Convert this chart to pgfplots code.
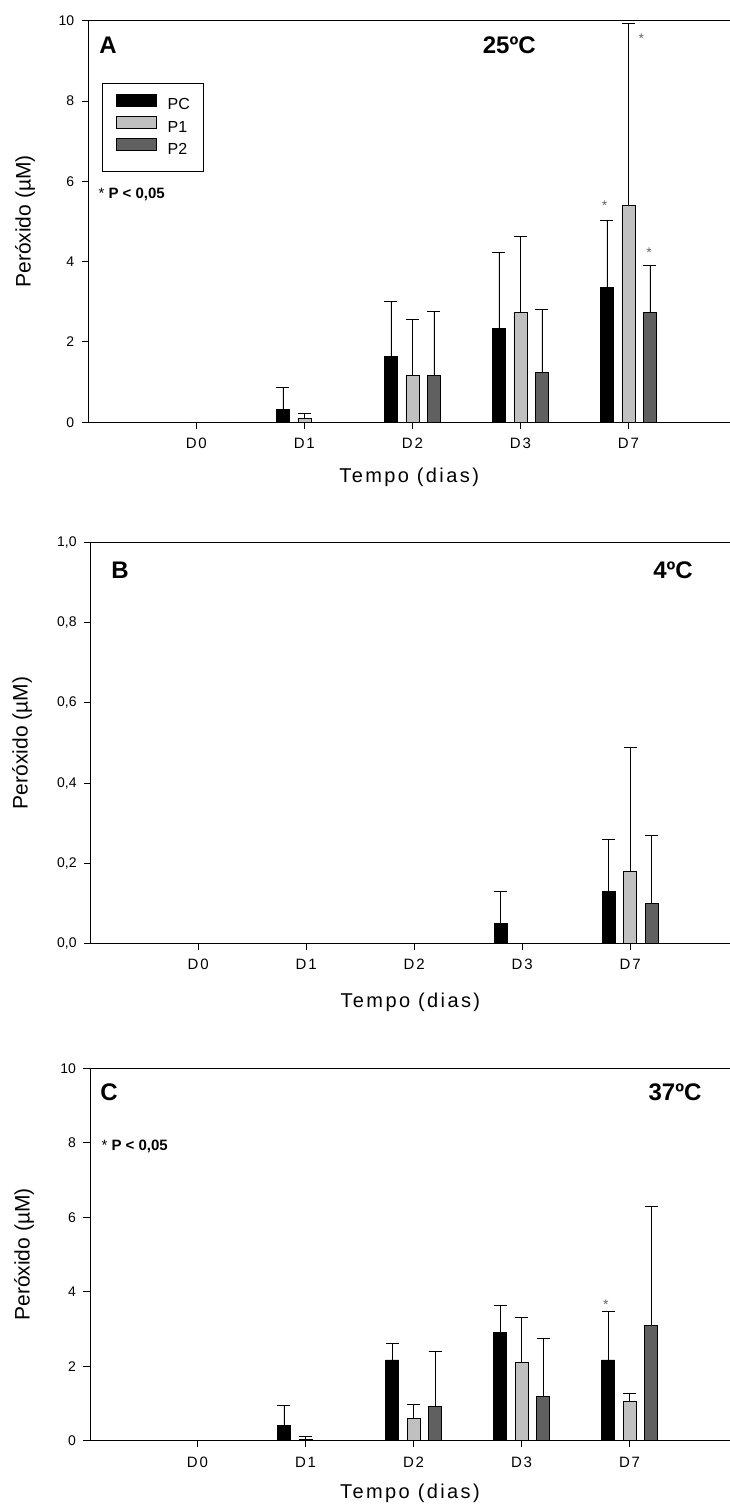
\documentclass[border=0pt]{standalone}
\usepackage{fontspec}
\setmainfont{Liberation Sans}
\newfontfamily\spaced[LetterSpace=12]{Liberation Sans}
\usepackage{pgfplots}
\pgfplotsset{compat=1.18}

\definecolor{pone}{HTML}{C0C0C0}
\definecolor{ptwo}{HTML}{606060}

\pgfplotsset{
  panel/.style={
    scale only axis,
    axis x line=box, axis y line=left,
    axis line style={-, line width=1pt},
    enlargelimits=false, ymin=0,
    xtick={0,1,2,3,4}, xticklabels={D0,D1,D2,D3,D7},
    xtick pos=bottom, ytick pos=left,
    tick align=outside, major tick length=6.5pt,
    tick style={line width=1pt, black},
    /pgf/number format/assume math mode=true,
    /pgf/number format/use comma,
    yticklabel style={font=\fontsize{14}{16}\selectfont, xshift=-4pt},
    xticklabel style={font=\spaced\fontsize{15}{17}\selectfont, yshift=-6pt},
    xlabel={Tempo (dias)}, ylabel={Peróxido (µM)},
    every axis x label/.style={at={(axis description cs:0.5,0)}, anchor=center,
      font=\spaced\fontsize{20}{22}\selectfont},
    every axis y label/.style={rotate=90, anchor=center,
      font=\fontsize{21}{23}\selectfont},
    ybar=8.5pt, bar width=13pt,
    error bars/y dir=plus, error bars/y explicit,
    error bars/error bar style={line width=0.7pt, black},
    error bars/error mark options={rotate=90, line width=1pt, mark size=6.5pt, black},
    clip=false,
  },
  bars/.style={draw=black, line width=0.6pt, fill=#1},
}
\tikzset{
  lab/.style={font=\bfseries\fontsize{24}{26}\selectfont},
  star/.style={font=\fontsize{14}{16}\selectfont, text=black!60},
  sig/.style={anchor=west, font=\bfseries\fontsize{15}{17}\selectfont},
}

\begin{document}
\begin{tikzpicture}
\useasboundingbox (0pt,0pt) rectangle (730pt,-1506pt);

% A: 25 C
\begin{axis}[panel, at={(88.3pt,-422.3pt)}, anchor=south west,
  width=641.7pt, height=401.6pt, xmin=-1, xmax=4.94, ymax=10,
  ytick={0,2,4,6,8,10},
  ylabel style={at={(axis description cs:-0.0986,0.5)}},
  xlabel style={yshift=-55pt},
  legend style={at={(rel axis cs:0.0218,0.845)}, anchor=north west,
    draw=black, line width=0.6pt, font=\fontsize{16}{18}\selectfont,
    inner xsep=13.5pt, inner ysep=10.5pt, row sep=0pt, column sep=11pt,
    nodes={text height=11.5pt, text depth=3.5pt, inner ysep=2.75pt, inner xsep=0pt}},
  legend cell align=left,
  legend image code/.code={\draw[#1] (0pt,-0.2pt) rectangle (40pt,11.8pt);}]
\addplot[bars=black] coordinates {(0,0) (1,0.32) +- (0,0.55) (2,1.64) +- (0,1.38) (3,2.33) +- (0,1.91) (4,3.36) +- (0,1.66)};
\addplot[bars=pone] coordinates {(0,0) (1,0.11) +- (0,0.12) (2,1.16) +- (0,1.41) (3,2.73) +- (0,1.90) (4,5.41) +- (0,4.52)};
\addplot[bars=ptwo] coordinates {(0,0) (1,0) (2,1.16) +- (0,1.61) (3,1.24) +- (0,1.57) (4,2.73) +- (0,1.17)};
\legend{PC,P1,P2}
\node[lab] at (rel axis cs:0.0307,0.94) {A};
\node[lab] at (rel axis cs:0.656,0.94) {25ºC};
\node[sig] at (rel axis cs:0.0104,0.5685) {{\mdseries *} P < 0,05};
\node[star] at (axis cs:3.78,5.40) {*};
\node[star] at (axis cs:4.12,9.55) {*};
\node[star] at (axis cs:4.19,4.22) {*};
\end{axis}

% B: 4 C
\begin{axis}[panel, at={(90.7pt,-943.3pt)}, anchor=south west,
  width=639.3pt, height=400.6pt, xmin=-0.995, xmax=4.925, ymax=1,
  ytick={0,0.2,0.4,0.6,0.8,1},
  yticklabel style={/pgf/number format/.cd, fixed, fixed zerofill, precision=1, use comma},
  ylabel style={at={(axis description cs:-0.1075,0.5)}},
  xlabel style={yshift=-59pt}]
\addplot[bars=black] coordinates {(0,0) (1,0) (2,0) (3,0.05) +- (0,0.08) (4,0.13) +- (0,0.13)};
\addplot[bars=pone] coordinates {(0,0) (1,0) (2,0) (3,0) (4,0.18) +- (0,0.31)};
\addplot[bars=ptwo] coordinates {(0,0) (1,0) (2,0) (3,0) (4,0.10) +- (0,0.17)};
\node[lab] at (rel axis cs:0.0458,0.932) {B};
\node[lab] at (rel axis cs:0.911,0.932) {4ºC};
\end{axis}

% C: 37 C
\begin{axis}[panel, at={(90pt,-1440.7pt)}, anchor=south west,
  width=640pt, height=372.4pt, xmin=-0.995, xmax=4.93, ymax=10,
  ytick={0,2,4,6,8,10},
  ylabel style={at={(axis description cs:-0.103,0.5)}},
  xlabel style={yshift=-53pt}]
\addplot[bars=black] coordinates {(0,0) (1,0.41) +- (0,0.53) (2,2.17) +- (0,0.45) (3,2.91) +- (0,0.73) (4,2.17) +- (0,1.29)};
\addplot[bars=pone] coordinates {(0,0) (1,0.05) +- (0,0.05) (2,0.59) +- (0,0.38) (3,2.11) +- (0,1.19) (4,1.06) +- (0,0.21)};
\addplot[bars=ptwo] coordinates {(0,0) (1,0) (2,0.93) +- (0,1.47) (3,1.20) +- (0,1.55) (4,3.10) +- (0,3.20)};
\node[lab] at (rel axis cs:0.0297,0.936) {C};
\node[lab] at (rel axis cs:0.914,0.936) {37ºC};
\node[sig] at (rel axis cs:0.0125,0.789) {{\mdseries *} P < 0,05};
\node[star] at (axis cs:3.78,3.65) {*};
\end{axis}
\end{tikzpicture}
\end{document}
